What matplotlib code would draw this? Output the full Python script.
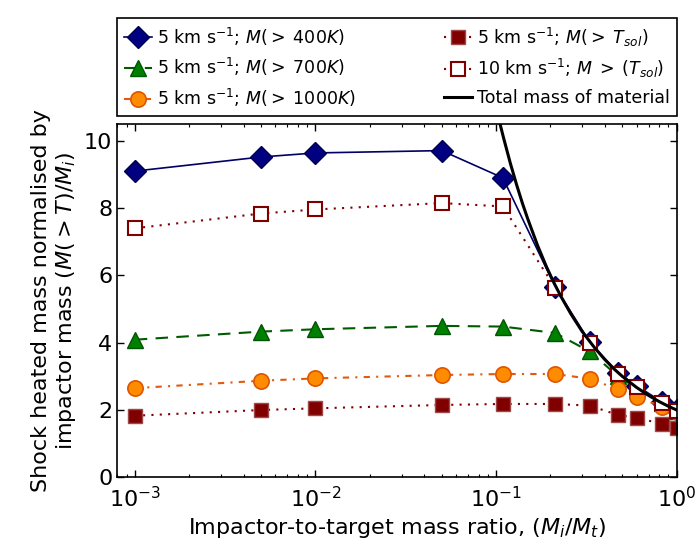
import numpy as np
import matplotlib
matplotlib.use("Agg")
import matplotlib.pyplot as plt

plt.rcParams['font.family'] = 'DejaVu Sans'
plt.rcParams['mathtext.fontset'] = 'dejavusans'

# Impactor-to-target mass ratio
ratio = [0.001, 0.005, 0.01, 0.05, 0.109, 0.212, 0.33, 0.474, 0.60, 0.825, 1.0]

# Shock heated mass normalised by impactor mass
m400 = [9.10, 9.52, 9.64, 9.71, 8.90, 5.67, 4.02, 3.10, 2.72, 2.25, 2.00]
m700 = [4.09, 4.33, 4.40, 4.50, 4.48, 4.29, 3.74, 3.00, 2.65, 2.20, 1.98]
m1000 = [2.65, 2.87, 2.94, 3.04, 3.07, 3.07, 2.93, 2.61, 2.40, 2.10, 1.95]
tsol5 = [1.83, 2.00, 2.05, 2.15, 2.18, 2.18, 2.13, 1.85, 1.77, 1.59, 1.46]
tsol10 = [7.40, 7.84, 7.96, 8.15, 8.05, 5.64, 4.00, 3.08, 2.68, 2.22, 1.98]

# Total mass of material
tot_x = [0.100, 0.105, 0.11, 0.12, 0.13, 0.14, 0.15, 0.17, 0.19, 0.21, 0.23,
         0.26, 0.30, 0.35, 0.40, 0.45, 0.50, 0.60, 0.70, 0.80, 0.90, 1.00]
tot_y = [11.00, 10.52, 10.09, 9.33, 8.69, 8.14, 7.67, 6.88, 6.26, 5.76, 5.35,
         4.85, 4.33, 3.86, 3.50, 3.22, 3.00, 2.67, 2.43, 2.25, 2.11, 2.00]

fig = plt.figure(figsize=(6.98, 5.48), dpi=100)
ax = fig.add_axes([0.168, 0.129, 0.8015, 0.6447])

dot = (0, (1, 3))
ax.plot(ratio, m400, '-', color='#000066', lw=1.2, marker='D', ms=11.5,
        mfc='#000080', mec='#000050', mew=1,
        label=r'5 km s$^{-1}$; $M(>\;400K)$')
ax.plot(ratio, m700, color='#005a00', lw=1.5, ls=(0, (6, 4)), marker='^', ms=11.5,
        mfc='#008000', mec='#005500', mew=1,
        label=r'5 km s$^{-1}$; $M(>\;700K)$')
ax.plot(ratio, m1000, color='#e05a10', lw=1.5, ls=(0, (3, 3, 1, 3)), marker='o',
        ms=11, mfc='#ff8c00', mec='#dd5500', mew=1.2,
        label=r'5 km s$^{-1}$; $M(>\;1000K)$')
ax.plot(ratio, tsol5, color='#800000', lw=1.5, ls=dot, marker='s', ms=10.5,
        mfc='#800000', mec='#a04848', mew=1,
        label=r'5 km s$^{-1}$; $M(>\;T_{sol})$')
ax.plot(ratio, tsol10, color='#800000', lw=1.5, ls=dot, marker='s', ms=10.5,
        mfc='white', mec='#800000', mew=1.5,
        label=r'10 km s$^{-1}$; $M\;>\;(T_{sol})$')
ax.plot(tot_x, tot_y, '-k', lw=2.2, label='Total mass of material')

ax.set_xscale('log')
ax.set_xlim(8e-4, 1)
ax.set_ylim(0, 10.5)
ax.set_yticks([0, 2, 4, 6, 8, 10])
ax.tick_params(which='both', direction='in', top=True, right=True, labelsize=16)
ax.tick_params(which='major', length=5, width=1)
ax.tick_params(which='minor', length=2.5, width=0.8)
ax.tick_params(axis='x', pad=6)
for s in ax.spines.values():
    s.set_linewidth(1.2)

ax.set_xlabel(r'Impactor-to-target mass ratio, $(M_i/M_t)$', fontsize=16)
ax.set_ylabel('Shock heated mass normalised by\n' + r'impactor mass $(M(>T)/M_i)$',
              fontsize=16)

leg = ax.legend(loc='lower left', bbox_to_anchor=(0, 1.0226, 1, 0.307),
                mode='expand', ncol=2, borderaxespad=0, numpoints=1,
                fontsize=12.5, handlelength=1.6, handletextpad=0.3,
                fancybox=False, edgecolor='black', framealpha=1)
leg.get_frame().set_linewidth(1.2)

fig.savefig('out.png', dpi=100)
